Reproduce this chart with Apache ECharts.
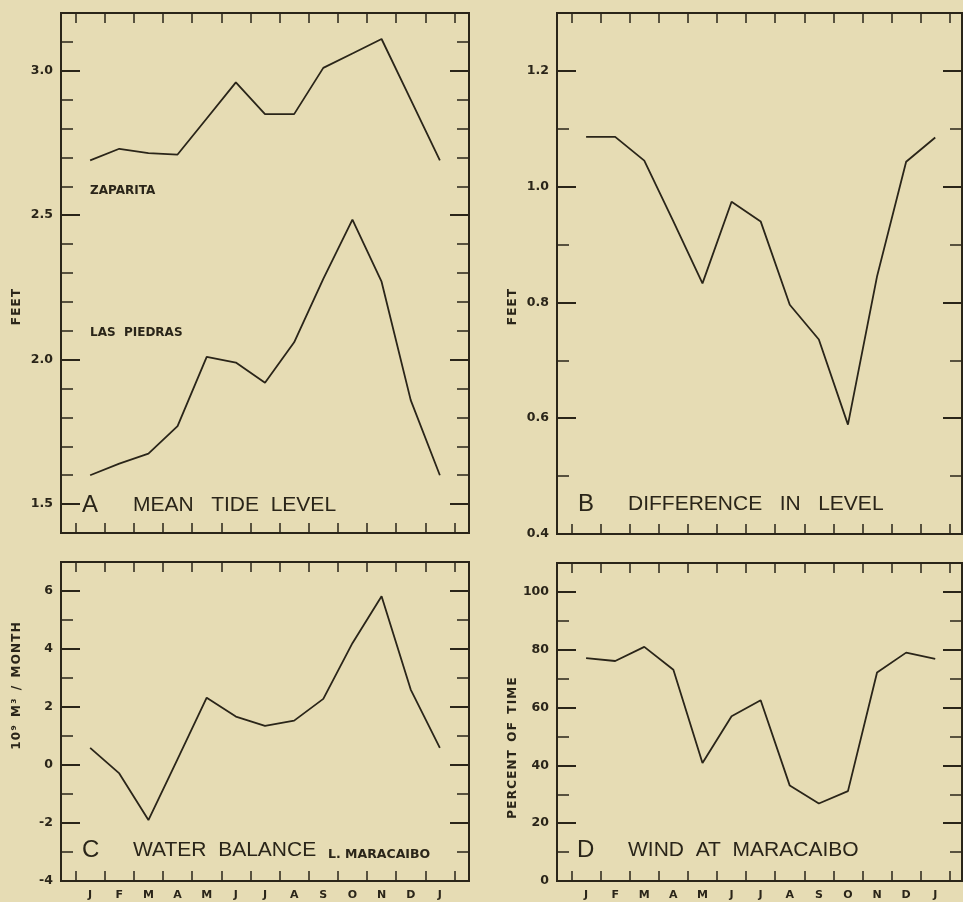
<!DOCTYPE html>
<html><head><meta charset="utf-8">
<script src="https://cdn.jsdelivr.net/npm/echarts@6/dist/echarts.min.js"></script>
<style>html,body{margin:0;padding:0;background:#e6dcb4;}#c{width:963px;height:902px;}</style>
</head><body><div id="c"></div>
<script>
// ---- data ----
const months = ['J','F','M','A','M','J','J','A','S','O','N','D','J'];
const zaparita   = [2.69, 2.73, 2.715, 2.71, 2.835, 2.96, 2.85, 2.85, 3.01, 3.06, 3.11, 2.90, 2.69];
const lasPiedras = [1.60, 1.64, 1.675, 1.77, 2.01, 1.99, 1.92, 2.06, 2.28, 2.485, 2.27, 1.86, 1.60];
const diffLevel  = [1.086, 1.086, 1.045, 0.94, 0.833, 0.974, 0.94, 0.796, 0.736, 0.589, 0.845, 1.043, 1.085];
const waterBalance = [0.59, -0.29, -1.90, 0.2, 2.32, 1.67, 1.35, 1.53, 2.28, 4.2, 5.82, 2.60, 0.59];
const windPct    = [77.1, 76.1, 81.0, 73.1, 40.8, 57.0, 62.5, 33.0, 26.8, 31.1, 72.1, 79.0, 76.8];
const yLabelsA = [1.5, 2.0, 2.5, 3.0];
const yLabelsB = [0.4, 0.6, 0.8, 1.0, 1.2];
const yLabelsC = [-4, -2, 0, 2, 4, 6];
const yLabelsD = [0, 20, 40, 60, 80, 100];

// ---- style / layout ----
const INK = '#2a2519';
const SMALL = '"DejaVu Sans"';
const TITLE = '"Liberation Sans"';
const panels = [
  {grid:{left:61, top:13, width:408, height:520}, xMax:13, y:{min:1.4, max:3.2, step:0.1, labels:yLabelsA, dec:1}, months:false, series:[zaparita, lasPiedras]},
  {grid:{left:557, top:13, width:405, height:521}, xMax:12.92, y:{min:0.4, max:1.3, step:0.1, labels:yLabelsB, dec:1}, months:false, series:[diffLevel]},
  {grid:{left:61, top:562, width:408, height:319}, xMax:13, y:{min:-4, max:7, step:1, labels:yLabelsC, dec:0}, months:true, series:[waterBalance]},
  {grid:{left:557, top:563, width:405, height:318}, xMax:12.92, y:{min:0, max:110, step:10, labels:yLabelsD, dec:0}, months:true, series:[windPct]}
];

const xTicks = []; for (let k = 0; k <= months.length; k++) xTicks.push(k - 0.5);
const xLabelVals = months.map((m, k) => k);

const grids = [], xAxes = [], yAxes = [], series = [];
panels.forEach((p, i) => {
  grids.push(Object.assign({show:true, borderColor:INK, borderWidth:2, backgroundColor:'transparent', containLabel:false}, p.grid));
  const minor = [];
  const n = Math.round((p.y.max - p.y.min) / p.y.step);
  for (let k = 0; k <= n; k++) minor.push(Math.round((p.y.min + k * p.y.step) * 1000) / 1000);
  ['bottom','top'].forEach(pos => {
    xAxes.push({
      gridIndex:i, type:'value', min:-1, max:p.xMax, position:pos,
      axisLine:{show:false, onZero:false}, splitLine:{show:false},
      axisTick:{show:true, inside:true, length:10, customValues:xTicks, lineStyle:{color:INK, width:1.5}},
      axisLabel:{show:(pos === 'bottom' && p.months), customValues:xLabelVals, formatter:v => months[Math.round(v)] || '',
        color:INK, fontSize:11, fontWeight:'bold', fontFamily:SMALL, margin:9}
    });
  });
  ['left','right'].forEach(pos => {
    yAxes.push({
      gridIndex:i, type:'value', min:p.y.min, max:p.y.max, position:pos,
      axisLine:{show:false, onZero:false}, splitLine:{show:false},
      axisTick:{show:true, inside:true, length:12, customValues:minor, lineStyle:{color:INK, width:1.5}},
      axisLabel:{show:false}
    });
    yAxes.push({
      gridIndex:i, type:'value', min:p.y.min, max:p.y.max, position:pos,
      axisLine:{show:false, onZero:false}, splitLine:{show:false},
      axisTick:{show:true, inside:true, length:19, customValues:p.y.labels, lineStyle:{color:INK, width:2}},
      axisLabel:{show:pos === 'left', customValues:p.y.labels, formatter:v => Number(v).toFixed(p.y.dec),
        color:INK, fontSize:12.5, fontWeight:'bold', fontFamily:SMALL, margin:8}
    });
  });
  p.series.forEach(vals => {
    series.push({
      type:'line', xAxisIndex:2 * i, yAxisIndex:4 * i, showSymbol:false, animation:false,
      lineStyle:{color:INK, width:1.8}, data:vals.map((v, k) => [k, v])
    });
  });
});

function spaced(s) {
  return s.split(' ').map(w => w.split('').join('\u200A')).join('  ');
}
function txt(x, y, text, size, weight, family, extra) {
  return Object.assign({type:'text', x:x, y:y, silent:true,
    style:{text:text, fontSize:size, fontWeight:weight, fontFamily:family, fill:INK, align:'left', verticalAlign:'middle'}}, extra || {});
}
function vtxt(x, y, text, size) {
  return {type:'text', x:x, y:y, rotation:Math.PI / 2, silent:true,
    style:{text:text, fontSize:size, fontWeight:'bold', fontFamily:SMALL, fill:INK, align:'center', verticalAlign:'middle'}};
}

const graphics = [
  txt(82, 505, 'A', 24, 'normal', TITLE),
  txt(133, 505, 'MEAN   TIDE  LEVEL', 21, 'normal', TITLE),
  txt(578, 504, 'B', 24, 'normal', TITLE),
  txt(628, 504, 'DIFFERENCE   IN   LEVEL', 21, 'normal', TITLE),
  txt(82, 850, 'C', 24, 'normal', TITLE),
  txt(133, 850, 'WATER  BALANCE', 21, 'normal', TITLE),
  txt(328, 855, 'L. MARACAIBO', 12.5, 'bold', SMALL),
  txt(577, 850, 'D', 24, 'normal', TITLE),
  txt(628, 850, 'WIND  AT  MARACAIBO', 21, 'normal', TITLE),
  txt(90, 191, 'ZAPARITA', 12, 'bold', SMALL),
  txt(90, 333, 'LAS  PIEDRAS', 12, 'bold', SMALL),
  vtxt(17, 307, spaced('FEET'), 12),
  vtxt(513, 307, spaced('FEET'), 12),
  vtxt(17, 686, spaced('10⁹ M³ / MONTH'), 12),
  vtxt(513, 748, spaced('PERCENT OF TIME'), 12)
];

const chart = echarts.init(document.getElementById('c'), null, {renderer:'canvas'});
chart.setOption({
  backgroundColor:'#e6dcb4',
  animation:false,
  grid:grids, xAxis:xAxes, yAxis:yAxes, series:series, graphic:graphics
});
</script>
</body></html>
